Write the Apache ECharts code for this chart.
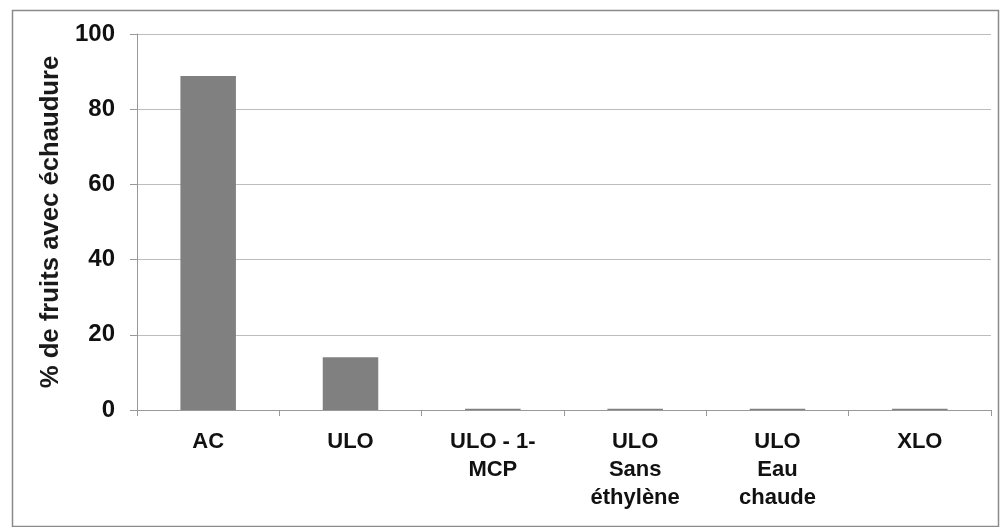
<!DOCTYPE html>
<html><head><meta charset="utf-8">
<script src="https://cdn.jsdelivr.net/npm/echarts@6/dist/echarts.min.js"></script>
<style>html,body{margin:0;padding:0;background:#fff;}#c{width:1007px;height:527px;}</style>
</head><body><div id="c"></div>
<script>
const categories = ['AC', 'ULO', 'ULO - 1-\nMCP', 'ULO\nSans\néthylène', 'ULO\nEau\nchaude', 'XLO'];
const values = [88.8, 14.0, 0.3, 0.3, 0.3, 0.3];
const yTitle = '% de fruits avec échaudure';
const yMin = 0, yMax = 100, yInterval = 20;

const chart = echarts.init(document.getElementById('c'));
chart.setOption({
  animation: false,
  backgroundColor: '#fff',
  graphic: [{
    type: 'rect', left: 10, top: 8,
    shape: { width: 986, height: 516 },
    style: { fill: 'none', stroke: '#8a8a8a', lineWidth: 1.5 }, silent: true
  }],
  grid: { left: 137, right: 16, top: 34, bottom: 117 },
  xAxis: {
    type: 'category', data: categories,
    axisLine: { lineStyle: { color: '#999', width: 1 } },
    axisTick: { show: true, length: 6, lineStyle: { color: '#999' } },
    axisLabel: { color: '#111', fontFamily: 'Liberation Sans', fontWeight: 'bold', fontSize: 22, lineHeight: 28, margin: 18, interval: 0 }
  },
  yAxis: {
    type: 'value', min: yMin, max: yMax, interval: yInterval,
    name: yTitle, nameLocation: 'middle', nameGap: 68,
    nameTextStyle: { color: '#1a1a1a', fontFamily: 'Liberation Sans', fontWeight: 'bold', fontSize: 25.7 },
    axisLine: { show: true, lineStyle: { color: '#999', width: 1 } },
    axisTick: { show: true, length: 7, lineStyle: { color: '#999' } },
    splitLine: { lineStyle: { color: '#bdbdbd', width: 1 } },
    axisLabel: { color: '#111', fontFamily: 'Liberation Sans', fontWeight: 'bold', fontSize: 24, margin: 22 }
  },
  series: [{
    type: 'bar', data: values, barWidth: '39%',
    itemStyle: { color: '#808080' }
  }]
});
</script></body></html>
